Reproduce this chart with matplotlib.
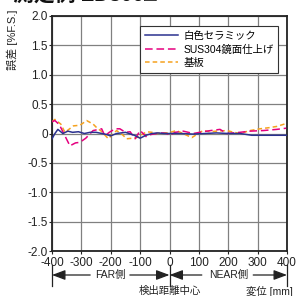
import matplotlib
matplotlib.use("Agg")
import matplotlib.pyplot as plt
import matplotlib.transforms as mtransforms

plt.rcParams['font.family'] = ['Liberation Sans', 'Noto Sans CJK JP', 'DejaVu Sans']

# Data
x_blue = [-400,-390,-380,-363,-346,-330,-310,-290,-270,-250,-220,-200,-180,-150,-120,-100,-80,-60,-40,-20,0,40,80,120,160,200,240,280,320,360,400]
y_blue = [-0.09,0.0,0.07,0.0,0.04,0.02,0.03,0.0,0.02,0.02,-0.01,-0.04,0.0,0.02,-0.03,-0.08,-0.03,0.0,0.01,0.0,0.0,0.0,-0.01,0.0,0.01,0.0,0.0,-0.03,-0.03,-0.03,-0.03]

x_mag = [-400,-390,-375,-355,-339,-320,-305,-285,-260,-240,-231,-220,-205,-185,-169,-150,-134,-117,-100,-78,-66,-44,-25,-10,2,19,47,81,114,140,172,195,240,274,319,365,397]
y_mag = [0.20,0.22,0.15,-0.05,-0.21,-0.16,-0.15,-0.08,0.05,0.07,0.08,-0.04,0.02,0.08,0.08,0.02,0.03,-0.09,0.05,-0.06,-0.02,0.0,0.01,0.0,-0.03,0.02,0.04,0.0,0.03,0.05,0.07,0.0,0.02,0.04,0.05,0.07,0.09]

x_org = [-400,-390,-370,-356,-340,-327,-305,-282,-260,-248,-230,-225,-208,-195,-180,-160,-146,-125,-112,-95,-78,-60,-44,-25,-10,2,24,50,76,95,114,138,160,195,220,240,274,308,340,365,397]
y_org = [0.20,0.24,0.16,0.02,0.08,0.13,0.14,0.22,0.16,0.10,0.03,0.0,-0.09,-0.02,0.05,-0.02,-0.09,-0.08,-0.07,-0.02,0.03,0.02,0.0,0.01,0.01,0.02,0.05,-0.01,-0.07,-0.01,0.05,0.03,0.04,0.05,0.02,0.0,0.05,0.08,0.10,0.12,0.17]

series_names = ['白色セラミック', 'SUS304鏡面仕上げ', '基板']
x_ticks = [-400, -300, -200, -100, 0, 100, 200, 300, 400]
x_ticklabels = ['-400', '-300', '-200', '-100', '0', '100', '200', '300', '400']
y_ticks = [-2.0, -1.5, -1.0, -0.5, 0, 0.5, 1.0, 1.5, 2.0]
y_ticklabels = ['-2.0', '-1.5', '-1.0', '-0.5', '0', '0.5', '1.0', '1.5', '2.0']

W, H = 297, 296
fig = plt.figure(figsize=(W/100, H/100), dpi=100)
ax = fig.add_axes([52/W, 1-251/H, (287-52)/W, (251-16)/H])

ax.plot(x_blue, y_blue, color='#2b3190', lw=1.1, label=series_names[0], zorder=5)
ax.plot(x_mag, y_mag, color='#e5007f', lw=1.1, ls=(0, (5, 2.5)), label=series_names[1], zorder=4)
ax.plot(x_org, y_org, color='#f5a21f', lw=1.1, ls=(0, (3, 2)), label=series_names[2], zorder=3)

ax.set_xlim(-400, 400)
ax.set_ylim(-2.0, 2.0)
ax.set_xticks(x_ticks)
ax.set_xticklabels(x_ticklabels)
ax.set_yticks(y_ticks)
ax.set_yticklabels(y_ticklabels)
ax.tick_params(labelsize=8.5, length=2, width=0.8, colors='#222222')
ax.tick_params(axis='y', pad=1)
ax.tick_params(axis='x', pad=2.5)
ax.grid(True, color='#808080', lw=0.9)
ax.set_axisbelow(True)
for s in ax.spines.values():
    s.set_color('#222222')
    s.set_linewidth(1.3)

leg = ax.legend(loc='upper right', bbox_to_anchor=(0.985, 0.98), fontsize=7.5,
                frameon=True, fancybox=False, edgecolor='#333333', framealpha=1,
                handlelength=3.2, handletextpad=0.5, borderpad=0.45, labelspacing=0.35)
leg.get_frame().set_linewidth(0.8)

fig.text(12/W, 1-40/H, '誤差 [%F.S.]', rotation=90, ha='center', va='center', fontsize=8, color='#222222')

# Cut-off title at top (only its lower edge shows, as in the reference)
fig.text(13/W, 1-6/H, '測定例 ZD300□', ha='left', va='bottom', fontsize=15, fontweight='bold', color='#111111')

# Bottom annotations
trans = mtransforms.blended_transform_factory(ax.transData, ax.transAxes)
def ay(py):
    return (251 - py) / 235.0
for xv in [-400, 0, 400]:
    ax.plot([xv, xv], [ay(265), ay(286)], color='#222222', lw=0.9, transform=trans, clip_on=False)
arrow_y = ay(275)
ap = dict(arrowstyle='-|>,head_length=0.8,head_width=0.3', color='#222222', lw=0.9, shrinkA=0, shrinkB=0)
ax.annotate('', xy=(-400, arrow_y), xytext=(-270, arrow_y), xycoords=trans, textcoords=trans, arrowprops=ap)
ax.annotate('', xy=(0, arrow_y), xytext=(-135, arrow_y), xycoords=trans, textcoords=trans, arrowprops=ap)
ax.annotate('', xy=(0, arrow_y), xytext=(110, arrow_y), xycoords=trans, textcoords=trans, arrowprops=ap)
ax.annotate('', xy=(400, arrow_y), xytext=(285, arrow_y), xycoords=trans, textcoords=trans, arrowprops=ap)
ax.text(-200, arrow_y, 'FAR側', transform=trans, ha='center', va='center', fontsize=7.5, color='#222222')
ax.text(200, arrow_y, 'NEAR側', transform=trans, ha='center', va='center', fontsize=7.5, color='#222222')
ax.text(0, ay(291), '検出距離中心', transform=trans, ha='center', va='center', fontsize=7.5, color='#222222')
ax.text(340, ay(291), '変位 [mm]', transform=trans, ha='center', va='center', fontsize=7.5, color='#222222')

fig.savefig('out.png', dpi=100)
